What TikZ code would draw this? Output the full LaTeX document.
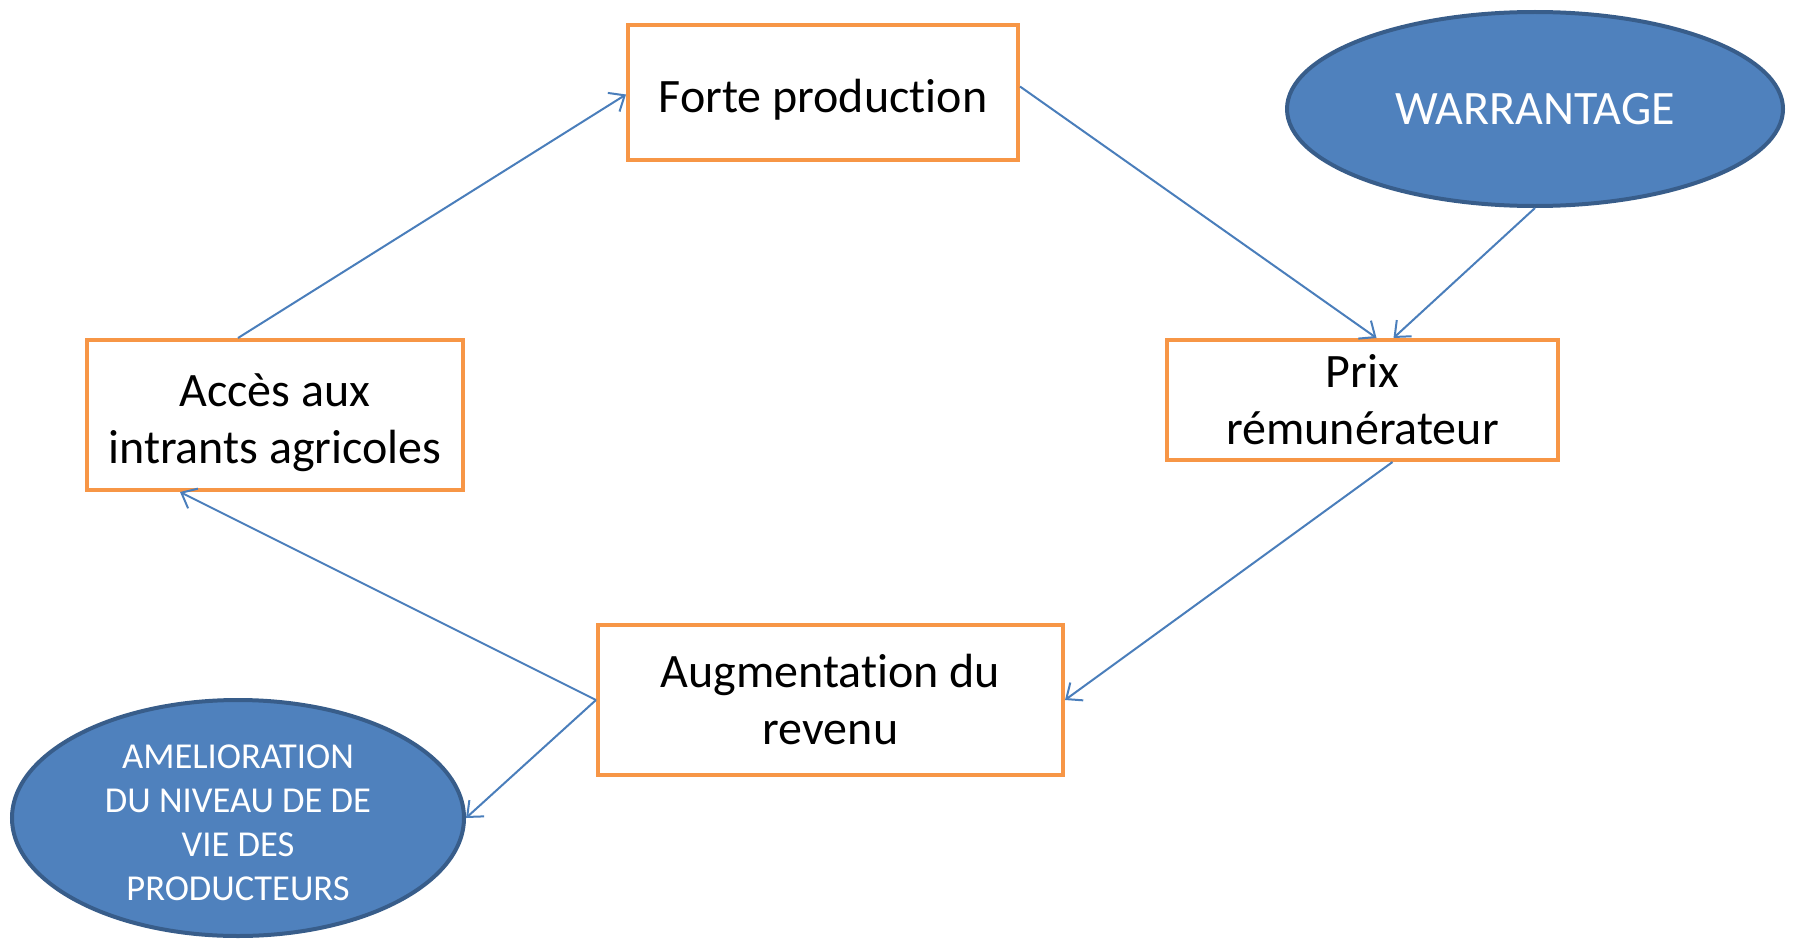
\documentclass[tikz,border=0pt]{standalone}
\usepackage{fontspec}
\setmainfont[Ligatures=NoCommon]{Carlito}
\usetikzlibrary{arrows.meta,shapes.geometric}
\definecolor{boxorange}{HTML}{F79646}
\definecolor{ellfill}{HTML}{4F81BD}
\definecolor{elldraw}{HTML}{385D8A}
\definecolor{arrowblue}{HTML}{4A7EBB}
\begin{document}
\begin{tikzpicture}[x=1pt,y=1pt,
  boxnode/.style={draw=boxorange,line width=4pt,fill=white,align=center,
    font=\fontsize{48}{57}\selectfont,inner sep=0pt},
  ellnode/.style={ellipse,draw=elldraw,fill=ellfill,line width=4pt,align=center,
    text=white,inner sep=0pt},
  link/.style={draw=arrowblue,line width=2pt,
    -{Straight Barb[length=13pt,width=22pt,line width=2pt]}}]
\useasboundingbox (0,0) rectangle (1796,-942);
\node[boxnode,minimum width=390pt,minimum height=135pt] (forte) at (823,-92.5) {\rule{0pt}{48pt}Forte production};
\node[boxnode,minimum width=376pt,minimum height=150pt] (acces) at (275,-415) {\rule{0pt}{48pt}Accès aux\\intrants agricoles};
\node[boxnode,minimum width=391pt,minimum height=120pt] (prix) at (1362.5,-400) {Prix\\rémunérateur};
\node[boxnode,minimum width=465pt,minimum height=150pt] (augm) at (830.5,-700) {Augmentation du\\revenu};
\node[ellnode,minimum width=496pt,minimum height=194pt,font=\fontsize{48}{57}\selectfont] (warr) at (1535,-109) {WARRANTAGE};
\node[ellnode,minimum width=452pt,minimum height=236pt,font=\fontsize{36.5}{44}\selectfont] (amel) at (238,-818) {\rule{0pt}{33pt}AMELIORATION\\DU NIVEAU DE DE\\VIE DES\\PRODUCTEURS};
\draw[link] ([xshift=-37pt]acces.north) -- ([yshift=-2pt]forte.west);
\draw[link] ([yshift=6pt]forte.east) -- ([xshift=14pt]prix.north);
\draw[link] (warr.south) -- ([xshift=31pt]prix.north);
\draw[link] ([xshift=30pt]prix.south) -- (augm.east);
\draw[link] (augm.west) -- ([xshift=-95pt]acces.south);
\draw[link] (augm.west) -- (amel.east);
\end{tikzpicture}
\end{document}
